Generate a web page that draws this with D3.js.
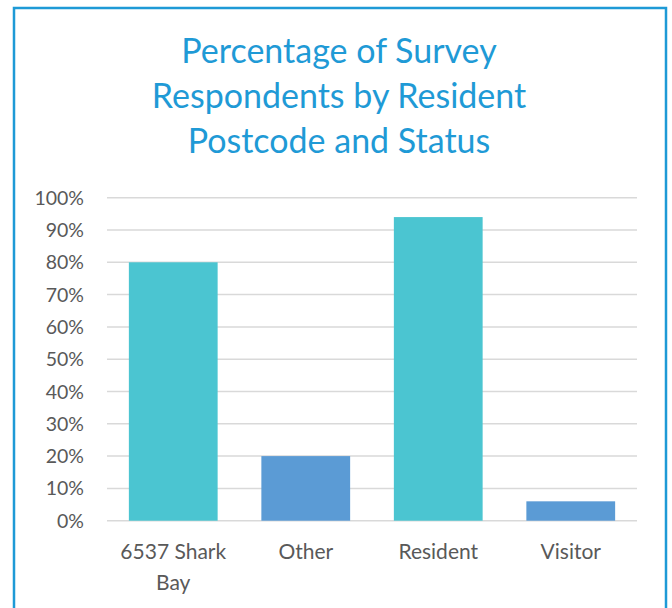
<!DOCTYPE html>
<html><head><meta charset="utf-8">
<script src="https://cdn.jsdelivr.net/npm/d3@7"></script>
<style>body{margin:0;background:#fff;} svg{display:block;}</style>
</head><body>
<svg id="chart" width="672" height="608"></svg>
<script>
const categories = ["6537 Shark Bay", "Other", "Resident", "Visitor"];
const values = [80, 20, 94, 6];
const barColors = ["#4BC5D1", "#5B9BD5", "#4BC5D1", "#5B9BD5"];
const yTicks = [0,10,20,30,40,50,60,70,80,90,100];
const titleLines = ["Percentage of Survey", "Respondents by Resident", "Postcode and Status"];

const svg = d3.select("#chart");
const font = "Lato, 'Open Sans', sans-serif";

svg.append("rect").attr("x",14).attr("y",8).attr("width",652).attr("height",640)
  .attr("fill","#fff").attr("stroke","#1E9AD6").attr("stroke-width",2.5);

svg.append("g").selectAll("text").data(titleLines).join("text")
  .attr("x",339).attr("y",(d,i)=>63+i*45).attr("text-anchor","middle")
  .attr("font-family",font).attr("font-size",34).attr("fill","#1F9AD6").text(d=>d);

const x = d3.scaleBand().domain(categories).range([107,637]).paddingInner(0.33).paddingOuter(0.165);
const y = d3.scaleLinear().domain([0,100]).range([520.7,197.7]);

svg.append("g").selectAll("line").data(yTicks).join("line")
  .attr("x1",107).attr("x2",637).attr("y1",d=>y(d)).attr("y2",d=>y(d))
  .attr("stroke","#D9D9D9").attr("stroke-width",1.5);

svg.append("g").selectAll("text").data(yTicks).join("text")
  .attr("x",84).attr("y",d=>y(d)+7).attr("text-anchor","end")
  .attr("font-family",font).attr("font-size",19.5).attr("fill","#595959").text(d=>d+"%");

svg.append("g").selectAll("rect").data(values).join("rect")
  .attr("x",(d,i)=>x(categories[i])).attr("width",x.bandwidth())
  .attr("y",d=>y(d)).attr("height",d=>y(0)-y(d)).attr("fill",(d,i)=>barColors[i]);

const labelLines = {"6537 Shark Bay":["6537 Shark","Bay"]};
const lg = svg.append("g");
categories.forEach(c=>{
  const lines = labelLines[c] || [c];
  lines.forEach((t,j)=>{
    lg.append("text").attr("x",x(c)+x.bandwidth()/2).attr("y",559+j*31)
      .attr("text-anchor","middle").attr("font-family",font).attr("font-size",21)
      .attr("fill","#595959").text(t);
  });
});
</script>
</body></html>
